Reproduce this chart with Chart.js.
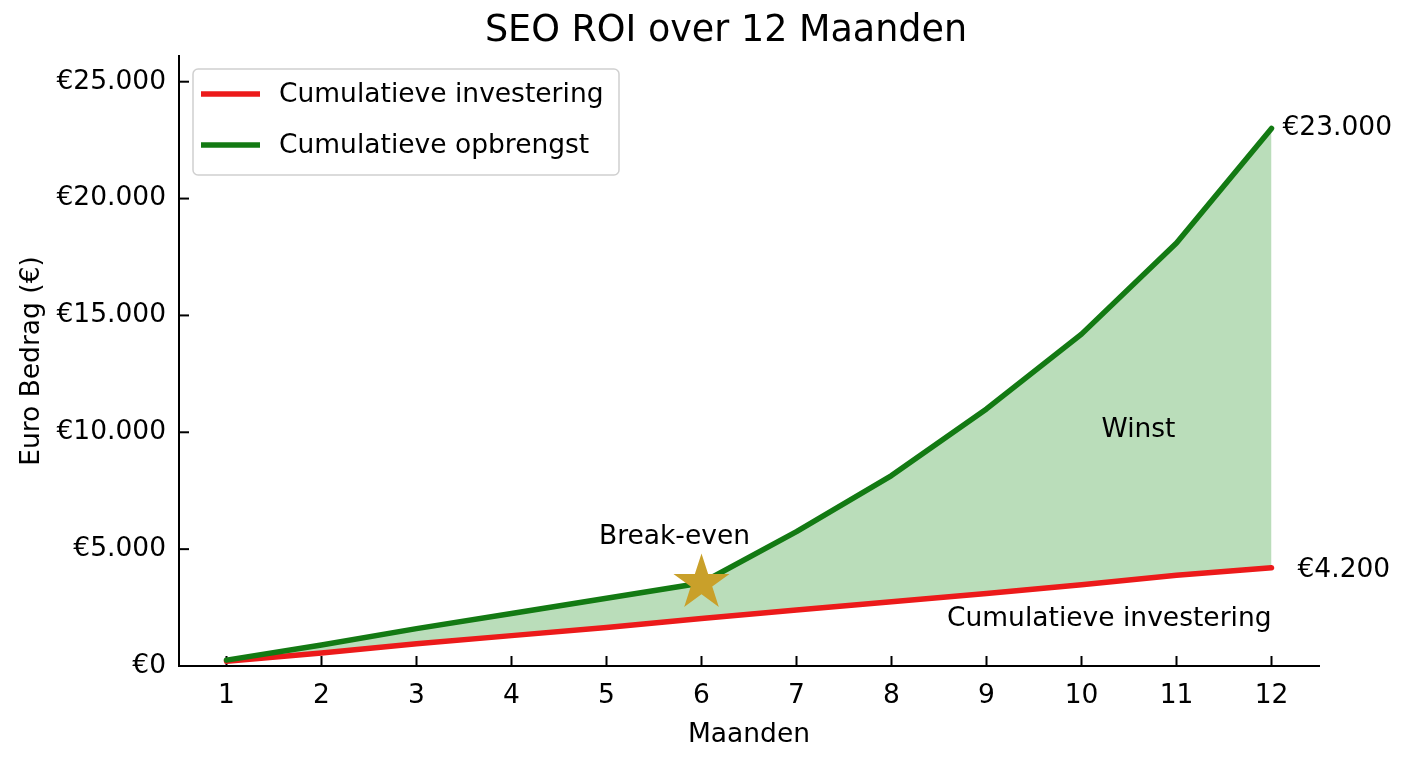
<!DOCTYPE html>
<html lang="nl">
<head>
<meta charset="utf-8">
<title>SEO ROI over 12 Maanden</title>
<script src="https://cdn.jsdelivr.net/npm/chart.js@4.4.1/dist/chart.umd.min.js"></script>
<style>
  html, body { margin: 0; padding: 0; background: #fff; }
  #wrap { width: 1408px; height: 768px; }
</style>
</head>
<body>
<div id="wrap"><canvas id="roiChart" width="1408" height="768"></canvas></div>
<script>
// ══════════════════════════════════════════
//   SEO ROI — cumulatieve investering vs opbrengst
// ══════════════════════════════════════════

/* ── 1. DATA ── */
const months = [1, 2, 3, 4, 5, 6, 7, 8, 9, 10, 11, 12];
const investment = [200, 560, 950, 1300, 1650, 2030, 2400, 2750, 3100, 3480, 3880, 4200];
const revenue = [250, 900, 1600, 2250, 2900, 3550, 5750, 8150, 11000, 14200, 18100, 23000];
const yTicks = [0, 5000, 10000, 15000, 20000, 25000];
const seriesLabels = ['Cumulatieve investering', 'Cumulatieve opbrengst'];
const breakEvenMonth = 6;

/* ── 2. HELPERS ── */
const FONT = "'DejaVu Sans', 'Liberation Sans', sans-serif";
const RED = '#ec1a1a';
const GREEN = '#137a13';
const euro = v => '€' + String(v).replace(/\B(?=(\d{3})+(?!\d))/g, '.');
const toPoints = vals => vals.map((v, i) => ({ x: months[i], y: v }));

function drawStar(ctx, cx, cy, R, r) {
  ctx.beginPath();
  for (let i = 0; i < 10; i++) {
    const rad = i % 2 === 0 ? R : r;
    const a = -Math.PI / 2 + i * Math.PI / 5;
    const px = cx + rad * Math.cos(a);
    const py = cy + rad * Math.sin(a);
    i === 0 ? ctx.moveTo(px, py) : ctx.lineTo(px, py);
  }
  ctx.closePath();
}

/* ── 3. DECORATIONS (ticks, annotations, legend, title) ── */
const decorPlugin = {
  id: 'decor',
  beforeDatasetsDraw(chart) {
    const { ctx, chartArea, scales: { x, y } } = chart;
    ctx.save();
    ctx.strokeStyle = '#000';
    ctx.lineWidth = 2;
    // inward tick marks
    months.forEach(m => {
      const px = x.getPixelForValue(m);
      ctx.beginPath();
      ctx.moveTo(px, chartArea.bottom);
      ctx.lineTo(px, chartArea.bottom - 10);
      ctx.stroke();
    });
    yTicks.forEach(t => {
      const py = y.getPixelForValue(t);
      ctx.beginPath();
      ctx.moveTo(chartArea.left, py);
      ctx.lineTo(chartArea.left + 10, py);
      ctx.stroke();
    });
    ctx.restore();
  },
  afterDatasetsDraw(chart) {
    const { ctx, scales: { x, y } } = chart;
    const last = months.length - 1;
    ctx.save();
    ctx.font = `26.5px ${FONT}`;
    ctx.fillStyle = '#000';
    ctx.textBaseline = 'middle';

    // end-of-line values
    ctx.textAlign = 'left';
    ctx.fillText(euro(revenue[last]), x.getPixelForValue(months[last]) + 11, y.getPixelForValue(revenue[last]));
    ctx.fillText(euro(investment[last]), x.getPixelForValue(months[last]) + 26, y.getPixelForValue(investment[last]) + 2);

    // area / line labels
    ctx.textAlign = 'center';
    ctx.fillText('Winst', x.getPixelForValue(10.6), y.getPixelForValue(10100));
    ctx.textAlign = 'right';
    ctx.fillText(seriesLabels[0], x.getPixelForValue(12), y.getPixelForValue(2000));

    // break-even star
    const bi = months.indexOf(breakEvenMonth);
    const sx = x.getPixelForValue(breakEvenMonth);
    const sy = y.getPixelForValue(revenue[bi]);
    ctx.fillStyle = '#c9a02a';
    drawStar(ctx, sx, sy, 29.5, 11.3);
    ctx.fill();
    ctx.fillStyle = '#000';
    ctx.textAlign = 'center';
    ctx.fillText('Break-even', sx - 27, sy - 46);
    ctx.restore();
  },
  afterDraw(chart) {
    const { ctx } = chart;
    ctx.save();
    // title
    ctx.font = `36.5px ${FONT}`;
    ctx.fillStyle = '#000';
    ctx.textAlign = 'center';
    ctx.textBaseline = 'middle';
    ctx.fillText('SEO ROI over 12 Maanden', 726, 32);

    // legend box
    const bx = 193, by = 69, bw = 426, bh = 106;
    ctx.beginPath();
    ctx.roundRect(bx, by, bw, bh, 5);
    ctx.fillStyle = 'rgba(255,255,255,0.85)';
    ctx.fill();
    ctx.strokeStyle = '#d0d0d0';
    ctx.lineWidth = 1.5;
    ctx.stroke();

    ctx.font = `26.5px ${FONT}`;
    ctx.textAlign = 'left';
    chart.data.datasets.forEach((ds, i) => {
      const ly = by + 25 + i * 51;
      ctx.strokeStyle = ds.borderColor;
      ctx.lineWidth = 5.5;
      ctx.beginPath();
      ctx.moveTo(bx + 8, ly);
      ctx.lineTo(bx + 67, ly);
      ctx.stroke();
      ctx.fillStyle = '#000';
      ctx.fillText(ds.label, bx + 86, ly + 1);
    });
    ctx.restore();
  }
};

/* ── 4. CHART ── */
const ctx = document.getElementById('roiChart').getContext('2d');
const roiChart = new Chart(ctx, {
  type: 'line',
  data: {
    datasets: [
      {
        label: seriesLabels[0],
        data: toPoints(investment),
        borderColor: RED,
        borderWidth: 5.5,
        borderCapStyle: 'round',
        borderJoinStyle: 'round',
        pointRadius: 0,
        tension: 0,
        fill: false,
        order: 1
      },
      {
        label: seriesLabels[1],
        data: toPoints(revenue),
        borderColor: GREEN,
        backgroundColor: 'rgba(0,128,0,0.27)',
        borderWidth: 5.5,
        borderCapStyle: 'round',
        borderJoinStyle: 'round',
        pointRadius: 0,
        tension: 0,
        fill: 0,
        order: 0
      }
    ]
  },
  options: {
    responsive: false,
    animation: false,
    devicePixelRatio: 1,
    layout: { padding: { top: 56, right: 89, left: 0, bottom: 0 } },
    plugins: {
      legend: { display: false },
      title: { display: false },
      tooltip: { enabled: false },
      filler: { drawTime: 'beforeDatasetsDraw' }
    },
    scales: {
      x: {
        type: 'linear',
        min: 0.5,
        max: 12.5,
        afterBuildTicks: s => { s.ticks = months.map(v => ({ value: v })); },
        afterFit: s => { s.height = 102; },
        grid: { display: true, drawOnChartArea: false, drawTicks: false },
        border: { display: true, color: '#000', width: 2 },
        ticks: { color: '#000', padding: 14, font: { family: FONT, size: 26.5 } },
        title: {
          display: true, text: 'Maanden', color: '#000',
          font: { family: FONT, size: 26.5 }, padding: { top: 0, bottom: 17 }
        }
      },
      y: {
        type: 'linear',
        min: 0,
        max: 26100,
        afterBuildTicks: s => { s.ticks = yTicks.map(v => ({ value: v })); },
        afterFit: s => { s.width = 179; },
        grid: { display: true, drawOnChartArea: false, drawTicks: false },
        border: { display: true, color: '#000', width: 2 },
        ticks: { color: '#000', padding: 13, font: { family: FONT, size: 26.5 }, callback: v => euro(v) },
        title: {
          display: true, text: 'Euro Bedrag (€)', color: '#000',
          font: { family: FONT, size: 26.5 }, padding: { top: 16, bottom: 0 }
        }
      }
    }
  },
  plugins: [decorPlugin]
});
</script>
</body>
</html>
